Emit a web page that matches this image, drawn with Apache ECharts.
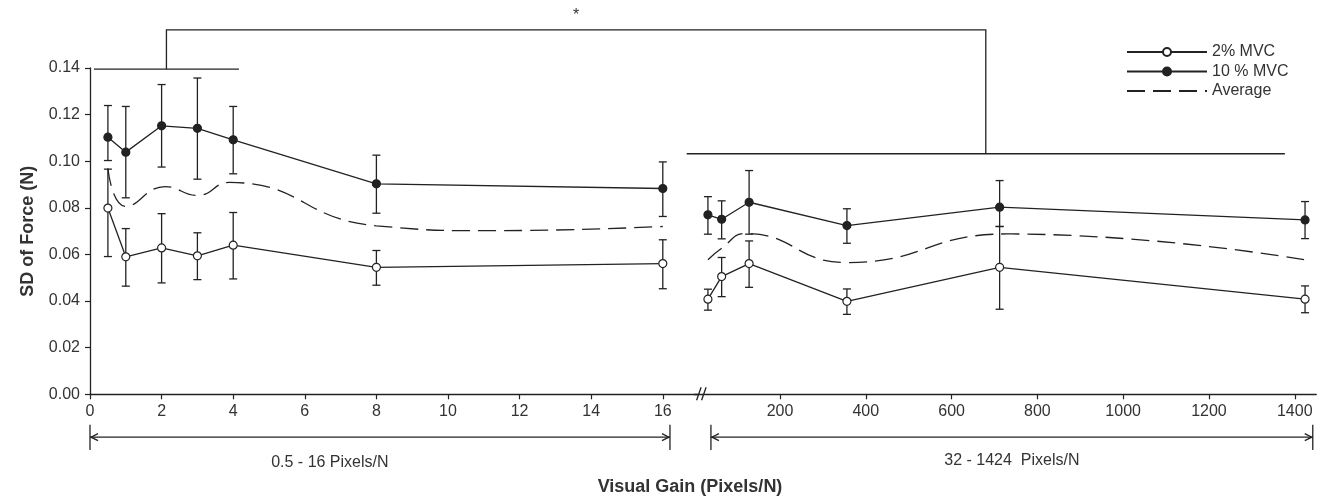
<!DOCTYPE html>
<html><head><meta charset="utf-8">
<script src="https://cdn.jsdelivr.net/npm/echarts@6/dist/echarts.min.js"></script>
<style>html,body{margin:0;padding:0;background:#fff}#c{width:1328px;height:504px}</style>
</head><body><div id="c"></div>
<script>
// ---------- data ----------
const leftGains  = [0.5, 1, 2, 3, 4, 8, 16];
const rightGains = [32, 64, 128, 356, 712, 1424];

const mvc2Left    = [0.0799, 0.0590, 0.0628, 0.0594, 0.0640, 0.0545, 0.0561];
const mvc2LeftHi  = [0.0966, 0.0711, 0.0775, 0.0693, 0.0780, 0.0617, 0.0663];
const mvc2LeftLo  = [0.0591, 0.0464, 0.0478, 0.0492, 0.0495, 0.0468, 0.0453];
const mvc10Left   = [0.1103, 0.1039, 0.1152, 0.1141, 0.1092, 0.0903, 0.0883];
const mvc10LeftHi = [0.1239, 0.1235, 0.1329, 0.1357, 0.1235, 0.1026, 0.0997];
const mvc10LeftLo = [0.1003, 0.0843, 0.0975, 0.0923, 0.0946, 0.0777, 0.0763];

// dashed "Average" curve
const avgLeftX    = [0.5, 1, 2.1, 3, 3.9, 8, 11.2, 16];
const avgLeft     = [0.0970, 0.0806, 0.0891, 0.0853, 0.0909, 0.0723, 0.0702, 0.0720];

const mvc2Right    = [0.0408, 0.0505, 0.0561, 0.0399, 0.0545, 0.0408];
const mvc2RightHi  = [0.0451, 0.0587, 0.0658, 0.0452, 0.0720, 0.0465];
const mvc2RightLo  = [0.0361, 0.0419, 0.0459, 0.0343, 0.0365, 0.0350];
const mvc10Right   = [0.0770, 0.0751, 0.0824, 0.0724, 0.0803, 0.0748];
const mvc10RightHi = [0.0848, 0.0830, 0.0960, 0.0796, 0.0917, 0.0827];
const mvc10RightLo = [0.0687, 0.0667, 0.0687, 0.0648, 0.0720, 0.0668];

const avgRightX    = [32, 64, 120, 356, 730, 1424];
const avgRight     = [0.0577, 0.0627, 0.0690, 0.0565, 0.0688, 0.0577];

const leftTicks  = [0, 2, 4, 6, 8, 10, 12, 14, 16];
const rightTicks = [200, 400, 600, 800, 1000, 1200, 1400];
const seriesNames = ['2% MVC', '10 % MVC', 'Average'];
const rangeLabels = ['0.5 - 16 Pixels/N', '32 - 1424  Pixels/N'];
const xTitle = 'Visual Gain (Pixels/N)';
const yTitle = 'SD of Force (N)';

// ---------- styling ----------
const FONT = '"Liberation Sans", Arial, Helvetica, sans-serif';
const INK = '#222';
const TXT = '#333';

function pairs(xs, ys) { return xs.map((x, i) => [x, ys[i]]); }

function errSeries(xs, lo, hi, gi) {
  return {
    type: 'custom', xAxisIndex: gi, yAxisIndex: gi, silent: true, z: 1,
    data: xs.map((x, i) => [x, lo[i], hi[i]]),
    encode: { x: 0, y: [1, 2] },
    renderItem(params, api) {
      const x = api.value(0);
      const a = api.coord([x, api.value(1)]);
      const b = api.coord([x, api.value(2)]);
      const w = 4, st = { stroke: INK, lineWidth: 1.3 };
      return { type: 'group', children: [
        { type: 'line', shape: { x1: a[0], y1: a[1], x2: b[0], y2: b[1] }, style: st },
        { type: 'line', shape: { x1: a[0] - w, y1: a[1], x2: a[0] + w, y2: a[1] }, style: st },
        { type: 'line', shape: { x1: b[0] - w, y1: b[1], x2: b[0] + w, y2: b[1] }, style: st }
      ]};
    }
  };
}

function markerLine(name, xs, ys, gi, filled) {
  return {
    type: 'line', name, xAxisIndex: gi, yAxisIndex: gi, data: pairs(xs, ys), z: 3,
    symbol: 'circle', symbolSize: 8,
    lineStyle: { color: INK, width: 1.3 },
    itemStyle: { color: filled ? INK : '#fff', borderColor: INK, borderWidth: 1.2 }
  };
}

function avgLine(xs, ys, gi) {
  return {
    type: 'line', name: seriesNames[2], xAxisIndex: gi, yAxisIndex: gi, data: pairs(xs, ys), z: 2,
    smooth: 0.5, symbol: 'none', showSymbol: false,
    lineStyle: { color: INK, width: 1.3, type: [18, 8] },
    itemStyle: { color: INK }
  };
}

const labelStyle = { fontFamily: FONT, fontSize: 16, color: TXT };

function xAxisCfg(gi, min, max, ticks) {
  return {
    type: 'value', gridIndex: gi, min, max,
    axisLine: { show: true, lineStyle: { color: INK, width: 1.3 } },
    axisTick: { show: true, length: 5, customValues: ticks, lineStyle: { color: INK, width: 1.2 } },
    axisLabel: Object.assign({ margin: 9, customValues: ticks, formatter: v => String(v) }, labelStyle),
    splitLine: { show: false }
  };
}

const option = {
  animation: false,
  backgroundColor: '#fff',
  grid: [
    { left: 90, top: 68, width: 608.6, height: 326.3 },
    { left: 694.2, top: 68, width: 622, height: 326.3 }
  ],
  xAxis: [ xAxisCfg(0, 0, 17, leftTicks), xAxisCfg(1, 0, 1450, rightTicks) ],
  yAxis: [
    {
      type: 'value', gridIndex: 0, min: 0, max: 0.14, interval: 0.02,
      axisLine: { show: true, lineStyle: { color: INK, width: 1.3 } },
      axisTick: { show: true, length: 5, lineStyle: { color: INK, width: 1.2 } },
      axisLabel: Object.assign({ margin: 10, formatter: v => v.toFixed(2) }, labelStyle),
      splitLine: { show: false },
      name: yTitle, nameLocation: 'middle', nameGap: 53,
      nameTextStyle: { fontFamily: FONT, fontSize: 18, fontWeight: 'bold', color: TXT }
    },
    { type: 'value', gridIndex: 1, min: 0, max: 0.14, show: false }
  ],
  legend: {
    data: [
      { name: seriesNames[0] },
      { name: seriesNames[1] },
      { name: seriesNames[2], itemStyle: { opacity: 0 } }
    ],
    orient: 'vertical', left: 1121, top: 39,
    itemWidth: 80, itemHeight: 10, itemGap: 3.5,
    textStyle: { fontFamily: FONT, fontSize: 16, color: TXT },
    selectedMode: false
  },
  series: [
    errSeries(leftGains, mvc2LeftLo, mvc2LeftHi, 0),
    errSeries(leftGains, mvc10LeftLo, mvc10LeftHi, 0),
    errSeries(rightGains, mvc2RightLo, mvc2RightHi, 1),
    errSeries(rightGains, mvc10RightLo, mvc10RightHi, 1),
    avgLine(avgLeftX, avgLeft, 0),
    avgLine(avgRightX, avgRight, 1),
    markerLine(seriesNames[0], leftGains, mvc2Left, 0, false),
    markerLine(seriesNames[1], leftGains, mvc10Left, 0, true),
    markerLine(seriesNames[0], rightGains, mvc2Right, 1, false),
    markerLine(seriesNames[1], rightGains, mvc10Right, 1, true)
  ]
};

const chart = echarts.init(document.getElementById('c'), null, { renderer: 'canvas' });
chart.setOption(option);

// ---------- annotations placed through the axes' scales ----------
const L = (x, y) => chart.convertToPixel({ gridIndex: 0 }, [x, y]);
const R = (x, y) => chart.convertToPixel({ gridIndex: 1 }, [x, y]);
const st = { stroke: INK, lineWidth: 1.3, fill: null };

const lbA = L(0.11, 0.1395), lbB = L(4.16, 0.1395);
const rbA = R(-17.5, 0.1032), rbB = R(1377, 0.1032);
const topY = L(0, 0.1564)[1];
const lMid = (lbA[0] + lbB[0]) / 2, rMid = (rbA[0] + rbB[0]) / 2;

const arY = L(0, -0.0184)[1], arTop = L(0, -0.0131)[1], arBot = L(0, -0.0239)[1];
const la0 = L(0, 0)[0], la1 = L(16.2, 0)[0];
const ra0 = R(39, 0)[0], ra1 = R(1442, 0)[0];
const labY = L(0, -0.0292)[1];

function arrow(x0, x1) {
  const h = 8, v = 3.5;
  return [
    { type: 'line', shape: { x1: x0, y1: arY, x2: x1, y2: arY }, style: st },
    { type: 'line', shape: { x1: x0, y1: arTop, x2: x0, y2: arBot }, style: st },
    { type: 'line', shape: { x1: x1, y1: arTop, x2: x1, y2: arBot }, style: st },
    { type: 'polyline', shape: { points: [[x0 + h, arY - v], [x0 + 1, arY], [x0 + h, arY + v]] }, style: st },
    { type: 'polyline', shape: { points: [[x1 - h, arY - v], [x1 - 1, arY], [x1 - h, arY + v]] }, style: st }
  ];
}

const axY = L(0, 0)[1];
const brk = L(17, 0)[0];

const graphics = [
  { type: 'line', shape: { x1: lbA[0], y1: lbA[1], x2: lbB[0], y2: lbB[1] }, style: st },
  { type: 'line', shape: { x1: rbA[0], y1: rbA[1], x2: rbB[0], y2: rbB[1] }, style: st },
  { type: 'polyline', shape: { points: [[lMid, lbA[1]], [lMid, topY], [rMid, topY], [rMid, rbA[1]]] }, style: st },
  { type: 'text', x: (lMid + rMid) / 2, y: topY - 14, style: { text: '*', fontFamily: FONT, fontSize: 16, fill: TXT, align: 'center', verticalAlign: 'middle' } },
  { type: 'rect', shape: { x: brk - 2, y: axY - 2, width: 9, height: 4 }, style: { fill: '#fff' } },
  { type: 'line', shape: { x1: brk - 2, y1: axY + 6, x2: brk + 2.5, y2: axY - 7 }, style: st },
  { type: 'line', shape: { x1: brk + 3, y1: axY + 6, x2: brk + 7.5, y2: axY - 7 }, style: st },
  ...arrow(la0, la1),
  ...arrow(ra0, ra1),
  { type: 'text', x: L(6.7, 0)[0], y: labY, style: { text: rangeLabels[0], fontFamily: FONT, fontSize: 16, fill: TXT, align: 'center', verticalAlign: 'middle' } },
  { type: 'text', x: (ra0 + ra1) / 2, y: labY - 2, style: { text: rangeLabels[1], fontFamily: FONT, fontSize: 16, fill: TXT, align: 'center', verticalAlign: 'middle' } },
  { type: 'text', x: 690, y: 487, style: { text: xTitle, fontFamily: FONT, fontSize: 18, fontWeight: 'bold', fill: TXT, align: 'center', verticalAlign: 'middle' } }
];
chart.setOption({ graphic: graphics });
</script>
</body></html>
